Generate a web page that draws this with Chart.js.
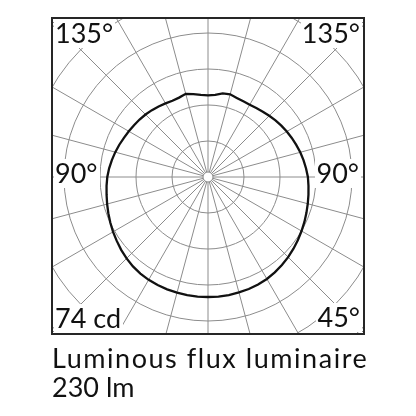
<!DOCTYPE html>
<html>
<head>
<meta charset="utf-8">
<script src="https://cdn.jsdelivr.net/npm/chart.js@4/dist/chart.umd.min.js"></script>
<style>
  html, body { margin: 0; padding: 0; background: #fff; }
  body { width: 416px; height: 416px; position: relative; overflow: hidden;
         font-family: Lato, "Open Sans", sans-serif; font-weight: 400; color: #111; }
  #box { position: absolute; left: 51px; top: 17px; width: 314px; height: 318px;
         box-sizing: border-box; border: 2px solid #262626; overflow: hidden; }
  #polar { position: absolute; left: -85px; top: -82px; }
  .lbl { position: absolute; font-size: 27px; line-height: 27px; background: #fff;
         padding: 0 2px 2px 1px; white-space: nowrap; }
  .foot { position: absolute; left: 52px; font-size: 27px; line-height: 27px; white-space: nowrap; }
</style>
</head>
<body>
<div id="box"><canvas id="polar" width="480" height="480"></canvas></div>

<div class="lbl" style="left:54px; top:19px">135°</div>
<div class="lbl" style="right:54px; top:19px">135°</div>
<div class="lbl" style="left:54px; top:159px">90°</div>
<div class="lbl" style="right:55px; top:159px">90°</div>
<div class="lbl" style="left:54px; top:304px">74 cd</div>
<div class="lbl" style="right:54px; top:303px">45°</div>

<div class="foot" style="top:344px; letter-spacing:1.55px">Luminous flux luminaire</div>
<div class="foot" style="top:373px">230 lm</div>

<script>
// gamma angles, left half goes from nadir (0) up to zenith (180)
const gammaLeft = [0, 5, 10, 15, 20, 25, 30, 35, 40, 45, 50, 55, 60, 65, 70, 75, 80, 85, 90,
                   95, 100, 105, 110, 115, 120, 125, 130, 135, 140, 145, 150, 155, 160, 165, 170, 175, 180];
// right half comes back down from zenith to nadir
const gammaRight = [175, 170, 165, 160, 155, 150, 145, 140, 135, 130, 125, 120, 115, 110, 105, 100, 95,
                    90, 85, 80, 75, 70, 65, 60, 55, 50, 45, 40, 35, 30, 25, 20, 15, 10, 5];

// luminous intensity in cd
const cdLeft = [74.0, 74.0, 73.9, 73.8, 73.7, 73.5, 73.2, 72.7, 72.0, 71.0, 69.9, 68.7, 67.6, 66.5,
                65.4, 64.4, 63.5, 62.8, 62.1, 61.2, 60.2, 59.2, 58.2, 57.2, 56.4, 55.7, 55.1, 54.5,
                53.8, 53.1, 52.4, 51.9, 52.1, 53.1, 51.9, 50.8, 50.3];
const cdRight = [50.9, 52.3, 52.8, 51.9, 51.5, 51.5, 51.9, 52.6, 53.4, 54.3, 55.2, 56.1, 57.0, 57.9,
                 58.9, 59.8, 60.7, 61.6, 62.2, 62.9, 63.7, 64.6, 65.6, 66.6, 67.7, 68.8, 69.9, 70.9,
                 71.8, 72.6, 73.1, 73.5, 73.7, 73.9, 74.0];

const cdMax = 148;      // outer edge of the radial scale
const cdStep = 22.2;    // spacing of the grid circles
const gridEvery = 3;    // one radial line every 15 degrees

const gridColor = '#8c8c8c';

// small white hub in the middle, the radial lines start from it
const hubPlugin = {
    id: 'hub',
    afterDatasetsDraw(chart) {
        const s = chart.scales.r;
        const ctx = chart.ctx;
        ctx.save();
        ctx.beginPath();
        ctx.arc(s.xCenter, s.yCenter, 5, 0, Math.PI * 2);
        ctx.fillStyle = '#fff';
        ctx.fill();
        ctx.lineWidth = 1;
        ctx.strokeStyle = gridColor;
        ctx.stroke();
        ctx.restore();
    }
};

new Chart(document.getElementById('polar'), {
    type: 'radar',
    data: {
        labels: [...gammaLeft, ...gammaRight].map(g => g + '°'),
        datasets: [{
            data: [...cdLeft, ...cdRight],
            borderColor: '#111',
            borderWidth: 2.3,
            fill: false,
            pointRadius: 0,
            tension: 0
        }]
    },
    options: {
        responsive: false,
        animation: false,
        layout: { padding: 0 },
        plugins: { legend: { display: false }, tooltip: { enabled: false } },
        scales: {
            r: {
                min: 0,
                max: cdMax,
                startAngle: 180,
                ticks: { display: false, stepSize: cdStep },
                pointLabels: { display: false },
                grid: { circular: true, color: gridColor, lineWidth: 1 },
                angleLines: {
                    color: gridColor,
                    lineWidth: ctx => (ctx.index % gridEvery === 0 ? 1 : 0)
                }
            }
        }
    },
    plugins: [hubPlugin]
});
</script>
</body>
</html>
